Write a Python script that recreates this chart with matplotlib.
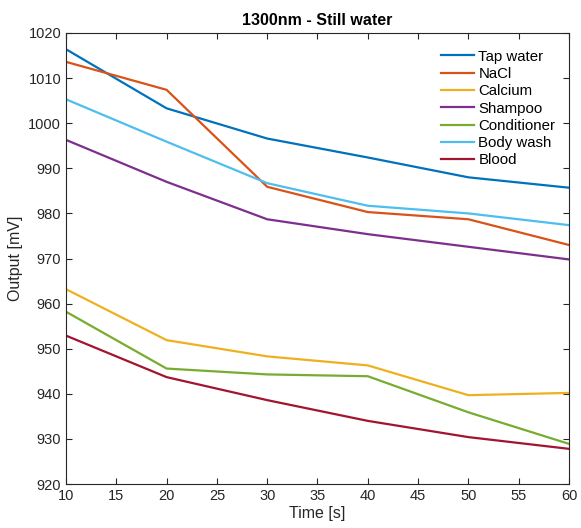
import matplotlib
matplotlib.use("Agg")
import matplotlib.pyplot as plt

plt.rcParams['font.family'] = ['Liberation Sans', 'DejaVu Sans']

time = [10, 20, 30, 40, 50, 60]
labels = ['Tap water', 'NaCl', 'Calcium', 'Shampoo', 'Conditioner', 'Body wash', 'Blood']
tap_water = [1016.4, 1003.3, 996.6, 992.4, 988.0, 985.7]
nacl = [1013.6, 1007.4, 985.9, 980.3, 978.7, 973.0]
calcium = [963.2, 951.9, 948.3, 946.3, 939.7, 940.2]
shampoo = [996.3, 987.0, 978.7, 975.4, 972.6, 969.8]
conditioner = [958.2, 945.6, 944.3, 943.9, 935.9, 928.9]
body_wash = [1005.3, 995.9, 986.7, 981.7, 980.0, 977.4]
blood = [952.9, 943.7, 938.6, 934.0, 930.4, 927.8]
series = [tap_water, nacl, calcium, shampoo, conditioner, body_wash, blood]
colors = ['#0072BD', '#D95319', '#EDB120', '#7E2F8E', '#77AC30', '#4DBEEE', '#A2142F']

fig = plt.figure(figsize=(5.81, 5.28), dpi=100)
ax = fig.add_axes([0.1136, 0.0833, 0.8657, 0.8542])

for y, lab, c in zip(series, labels, colors):
    ax.plot(time, y, color=c, lw=1.6, label=lab)

ax.set_xlim(10, 60)
ax.set_ylim(920, 1020)
ax.set_xticks(range(10, 61, 5))
ax.set_yticks(range(920, 1021, 10))
ax.tick_params(direction='in', top=True, right=True, length=4, labelsize=10.5,
               colors='#262626', width=0.8)
for s in ax.spines.values():
    s.set_color('#262626')
    s.set_linewidth(0.8)
ax.set_xlabel('Time [s]', fontsize=11.5, color='#262626', labelpad=2)
ax.set_ylabel('Output [mV]', fontsize=11.5, color='#262626', labelpad=4)
ax.set_title('1300nm - Still water', fontsize=11.5, fontweight='bold', pad=6)

leg = ax.legend(loc='upper right', frameon=False, fontsize=10.8, handlelength=2.2,
                labelspacing=0.22, handletextpad=0.33, borderaxespad=0.5,
                bbox_to_anchor=(1.0, 0.993))

fig.savefig('out.png', dpi=100)
